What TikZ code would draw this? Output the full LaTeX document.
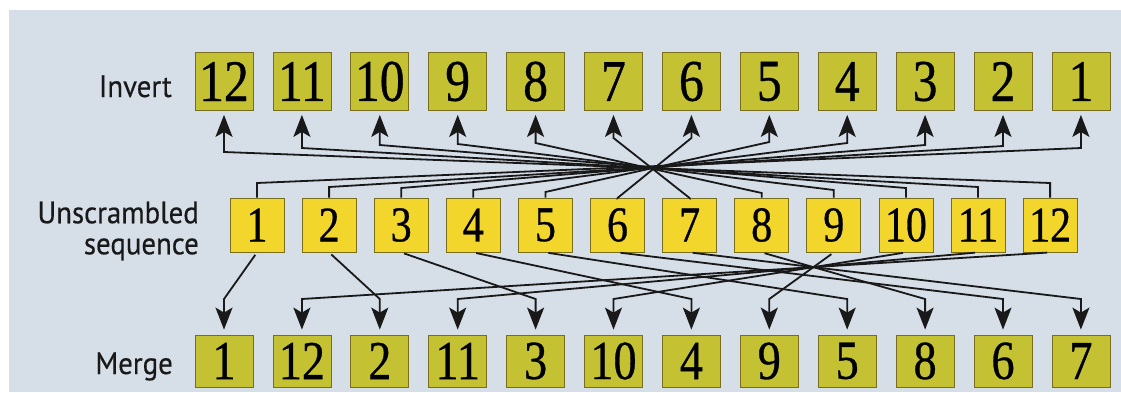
\documentclass[tikz,border=0pt]{standalone}
\usepackage{fontspec}
\newfontfamily\numfont[FakeStretch=0.84,FakeBold=0.6]{Liberation Serif}
\newfontfamily\labfont[FakeStretch=0.93,FakeBold=0.4]{PT Sans}
\usetikzlibrary{arrows.meta}
\definecolor{bgc}{RGB}{214,222,232}
\definecolor{olivebox}{RGB}{196,194,50}
\definecolor{yelbox}{RGB}{242,214,44}
\definecolor{edgec}{RGB}{120,110,30}
\begin{document}
\begin{tikzpicture}[x=1pt,y=-1pt,
  obox/.style={draw=edgec,line width=0.8pt,fill=olivebox,minimum width=58pt,minimum height=58pt,inner sep=0pt,font=\numfont\fontsize{59}{59}\selectfont},
  bbox/.style={obox,minimum height=52pt,font=\numfont\fontsize{55}{55}\selectfont},
  ybox/.style={draw=edgec,line width=0.8pt,fill=yelbox,minimum width=54pt,minimum height=54pt,inner sep=0pt,font=\numfont\fontsize{50}{50}\selectfont},
  lab/.style={font=\labfont\fontsize{31}{31}\selectfont,inner sep=0pt,text=black!90},
  conn/.style={line width=1.8pt,black!90,-{Stealth[length=22pt,width=17pt,inset=5pt]}}
]
\useasboundingbox (0,0) rectangle (1121,392);
\fill[white] (0,0) rectangle (1121,392);
\fill[bgc] (9,10) rectangle (1121,392);

% x positions
\def\tx#1{224+77.9*(#1-1)}
\def\mx#1{257+72.1*(#1-1)}

% top row (Invert): 12 ... 1
\foreach \p/\v in {1/12,2/11,3/10,4/9,5/8,6/7,7/6,8/5,9/4,10/3,11/2,12/1}
  \node[obox] (t\v) at ({\tx{\p}},81.5) {\v};
% middle row
\foreach \k in {1,...,12}
  \node[ybox] (m\k) at ({\mx{\k}},225) {\k};
% bottom row (Merge)
\foreach \p/\v in {1/1,2/12,3/2,4/11,5/3,6/10,7/4,8/9,9/5,10/8,11/6,12/7}
  \node[bbox] (b\v) at ({\tx{\p}},361) {\v};

% labels
\node[lab,anchor=base east] (linv) at (172,97) {Invert};
\node[lab,anchor=east,align=right] (lun) at (199,231) {Unscrambled\\sequence};
\node[lab,anchor=base east] (lmer) at (173,374) {Merge};

% top connectors: middle k -> top k
\foreach \k/\p/\ty/\my in {1/12/148/183,2/11/146/187,3/10/145/188,4/9/143/190,5/8/142/192,6/7/138/198,
                          7/6/138/198,8/5/143/193,9/4/144/190,10/3/145/188,11/2/148/187,12/1/152/183}{
  \coordinate (ms\k) at ({\mx{\k}},\my);
  \coordinate (tb\k) at ({\tx{\p}},\ty);
  \draw[conn,shorten >=4pt] (m\k.north) -- (ms\k) -- (tb\k) -- (t\k.south);
}

% bottom connectors: middle k -> bottom position
\foreach \k/\p in {1/1,2/3,3/5,4/7,5/9,6/11,7/12,8/10,9/8,10/6,11/4,12/2}{
  \coordinate (bb\k) at ({\tx{\p}},299);
  \draw[conn,shorten <=3pt,shorten >=5pt] (m\k.south) -- (bb\k) -- (b\k.north);
}
\end{tikzpicture}
\end{document}
